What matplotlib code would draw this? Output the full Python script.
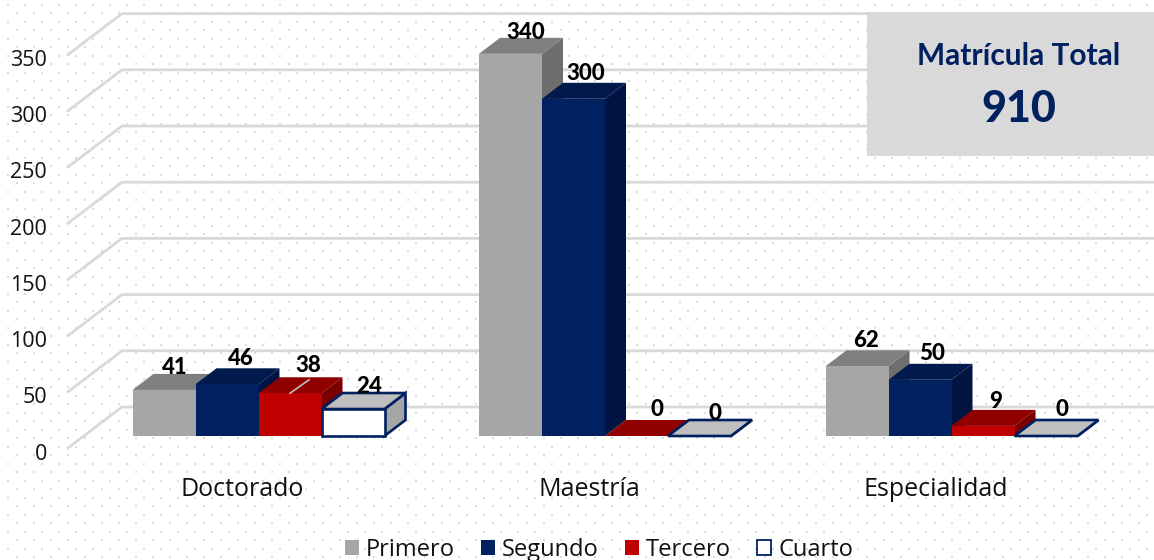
import numpy as np
import matplotlib
matplotlib.use('Agg')
import matplotlib.pyplot as plt
from matplotlib.patches import Patch, Rectangle

# data
categorias = ['Doctorado', 'Maestría', 'Especialidad']
niveles = ['Primero', 'Segundo', 'Tercero', 'Cuarto']
primero = [41, 340, 62]
segundo = [46, 300, 50]
tercero = [38, 0, 9]
cuarto = [24, 0, 0]
ticks = [0, 50, 100, 150, 200, 250, 300, 350]
total_titulo = 'Matrícula Total'
total = '910'

W, H = 1154, 560
PX_X = 346.5       # pixels per category
PX_Y = 1.124       # pixels per unit
X0, Y0 = 258.5, 436

NAVY = '#002060'
# front, top, side
colores = [('#a6a6a6', '#7f7f7f', '#6e6e6e'),
           (NAVY, '#001a4d', '#001342'),
           ('#c00000', '#900000', '#7a0000'),
           ('#ffffff', '#bfbfbf', '#a6a6a6')]
ancho = 63 / PX_X
dx = 21 / PX_X
dy = 16 / PX_Y

# label offsets from the top of each bar, pixels (labels were moved by hand)
offsets = [[(0, 14), (3, 18), (8, 20), (5.5, 15)],
           [(5, 13), (2, 17), (10, 18), (5, 15)],
           [(-1, 18), (2, 18), (2, 16), (5, 18)]]

fig = plt.figure(figsize=(W / 100, H / 100), dpi=100)
fig.patch.set_facecolor('white')

# dotted background
bg = fig.add_axes([0, 0, 1, 1], zorder=0)
bg.set_xlim(0, W)
bg.set_ylim(H, 0)
bg.axis('off')
for i, yy in enumerate(np.arange(4.5, H, 8.5)):
    xx = np.arange(8 if i % 2 == 0 else 16.5, W, 17)
    bg.scatter(xx, np.full(len(xx), yy), s=1.6, marker='s', color='#dcdcdc', linewidths=0)

ax = fig.add_axes([0, 0, 1, 1], zorder=1)
ax.patch.set_alpha(0)
ax.set_xlim(-X0 / PX_X, (W - X0) / PX_X)
ax.set_ylim((Y0 - H) / PX_Y, Y0 / PX_Y)
ax.axis('off')


def barra(x, v, col):
    """one 3d looking bar, x is the left edge"""
    front, top, side = col
    edge = NAVY if front == '#ffffff' else None
    lw = 1.9 if edge else 0
    ax.fill([x + ancho, x + ancho + dx, x + ancho + dx, x + ancho],
            [0, dy, v + dy, v], color=side, ec=edge, lw=lw, zorder=3)
    ax.fill([x, x + ancho, x + ancho + dx, x + dx],
            [v, v, v + dy, v + dy], color=top, ec=edge, lw=lw, zorder=3)
    if v > 0:
        ax.fill([x, x + ancho, x + ancho, x],
                [0, 0, v, v], color=front, ec=edge, lw=lw, zorder=3)


# walls and gridlines
wall_back = 29 / PX_Y
wall_front = -12 / PX_Y
for t in ticks:
    ax.plot([(68 - X0) / PX_X, (122 - X0) / PX_X, (W - X0) / PX_X],
            [t + wall_front, t + wall_back, t + wall_back],
            color='#d9d9d9', lw=2, solid_joinstyle='miter', zorder=2)
    ax.text((47 - X0) / PX_X, t + wall_front - 6 / PX_Y, str(t), ha='right', va='center',
            fontsize=15.5, family='Open Sans', color='#111111', zorder=5)

# bars
series = [primero, segundo, tercero, cuarto]
for c in range(len(categorias)):
    for s, vals in enumerate(series):
        x = c + (s - 2) * ancho
        barra(x, vals[c], colores[s])
        ax.annotate(str(vals[c]), (x + ancho / 2 + dx / 2, vals[c] + dy / 2),
                    xytext=(offsets[c][s][0] * 0.72, offsets[c][s][1] * 0.72),
                    textcoords='offset points', ha='center', va='center',
                    fontsize=16, fontweight='black', family='Lato', color='black', zorder=6)
    ax.text(c - 0.046, -53 / PX_Y, categorias[c], ha='center', va='center',
            fontsize=18, family='Open Sans', color='#111111', zorder=5)

# leader line of the 38 label
ax.plot([(290 - X0) / PX_X, (309 - X0) / PX_X], [tercero[0], tercero[0] + 12],
        color='#bfbfbf', lw=1.2, zorder=4)

# total box
fig.add_artist(Rectangle((867 / W, 1 - 156 / H), 287 / W, 144 / H, transform=fig.transFigure,
                         fc='#d9d9d9', ec='none', zorder=2))
fig.text(1018.5 / W, 1 - 56 / H, total_titulo, ha='center', va='center', fontsize=21.5,
         fontweight='bold', family='Lato', color=NAVY, zorder=3)
fig.text(1019 / W, 1 - 108.5 / H, total, ha='center', va='center', fontsize=31,
         fontweight='black', family='Lato', color=NAVY, zorder=3)

# legend
handles = [Patch(fc=colores[i][0], ec=NAVY if i == 3 else colores[i][0], lw=1.3 if i == 3 else 0)
           for i in range(4)]
ax.legend(handles, niveles, ncol=4, loc='center', bbox_to_anchor=(599 / W, 1 - 550 / H),
          frameon=False, prop={'family': 'Open Sans', 'size': 17}, handlelength=0.6,
          handleheight=0.6, handletextpad=0.3, columnspacing=1.1, labelcolor='#111111',
          borderpad=0, borderaxespad=0)

fig.savefig('out.png', dpi=100)
